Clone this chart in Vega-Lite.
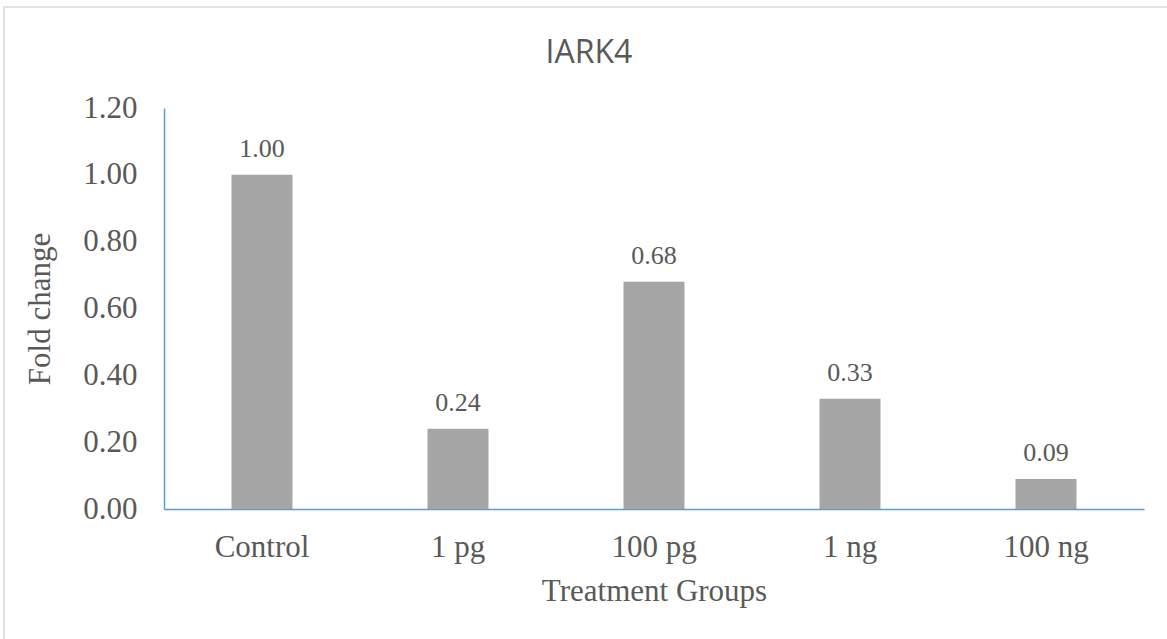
{
  "$schema": "https://vega.github.io/schema/vega-lite/v6.json",
  "width": 1170,
  "height": 640,
  "autosize": {"type": "none"},
  "padding": {"left": 4, "top": 7, "right": 0, "bottom": 0},
  "background": "white",
  "config": {
    "view": {"stroke": "#d9d9d9", "strokeWidth": 1.5},
    "axis": {"grid": false, "ticks": false, "labelColor": "#595959", "titleColor": "#595959", "labelFont": "Liberation Serif", "titleFont": "Liberation Serif", "labelFontSize": 31, "titleFontSize": 31, "titleFontWeight": "normal", "domainColor": "#5b9bd5", "domainWidth": 1.5}
  },
  "title": {
    "text": "IARK4",
    "font": "Open Sans",
    "fontSize": 32,
    "fontWeight": "normal",
    "color": "#595959",
    "anchor": "middle",
    "frame": "group",
    "baseline": "alphabetic",
    "offset": -88
  },
  "data": {
    "values": [
      {"group": "Control", "fold": 1.00},
      {"group": "1 pg", "fold": 0.24},
      {"group": "100 pg", "fold": 0.68},
      {"group": "1 ng", "fold": 0.33},
      {"group": "100 ng", "fold": 0.09}
    ]
  },
  "encoding": {
    "x": {
      "field": "group", "type": "nominal", "sort": null,
      "scale": {"range": [160, 1140], "paddingInner": 0.689, "paddingOuter": 0.3445},
      "axis": {"title": "Treatment Groups", "labelAngle": 0, "offset": -138, "labelPadding": 23, "titlePadding": 14}
    },
    "y": {
      "field": "fold", "type": "quantitative",
      "scale": {"domain": [0, 1.2], "range": [502, 101], "nice": false},
      "axis": {"title": "Fold change", "values": [0, 0.2, 0.4, 0.6, 0.8, 1.0, 1.2], "format": ".2f", "offset": -160, "labelPadding": 27, "titlePadding": 26}
    }
  },
  "layer": [
    {"mark": {"type": "bar", "color": "#a5a5a5"}},
    {
      "mark": {"type": "text", "font": "Liberation Serif", "fontSize": 26, "color": "#595959", "baseline": "alphabetic", "dy": -18},
      "encoding": {"text": {"field": "fold", "type": "quantitative", "format": ".2f"}}
    }
  ]
}
